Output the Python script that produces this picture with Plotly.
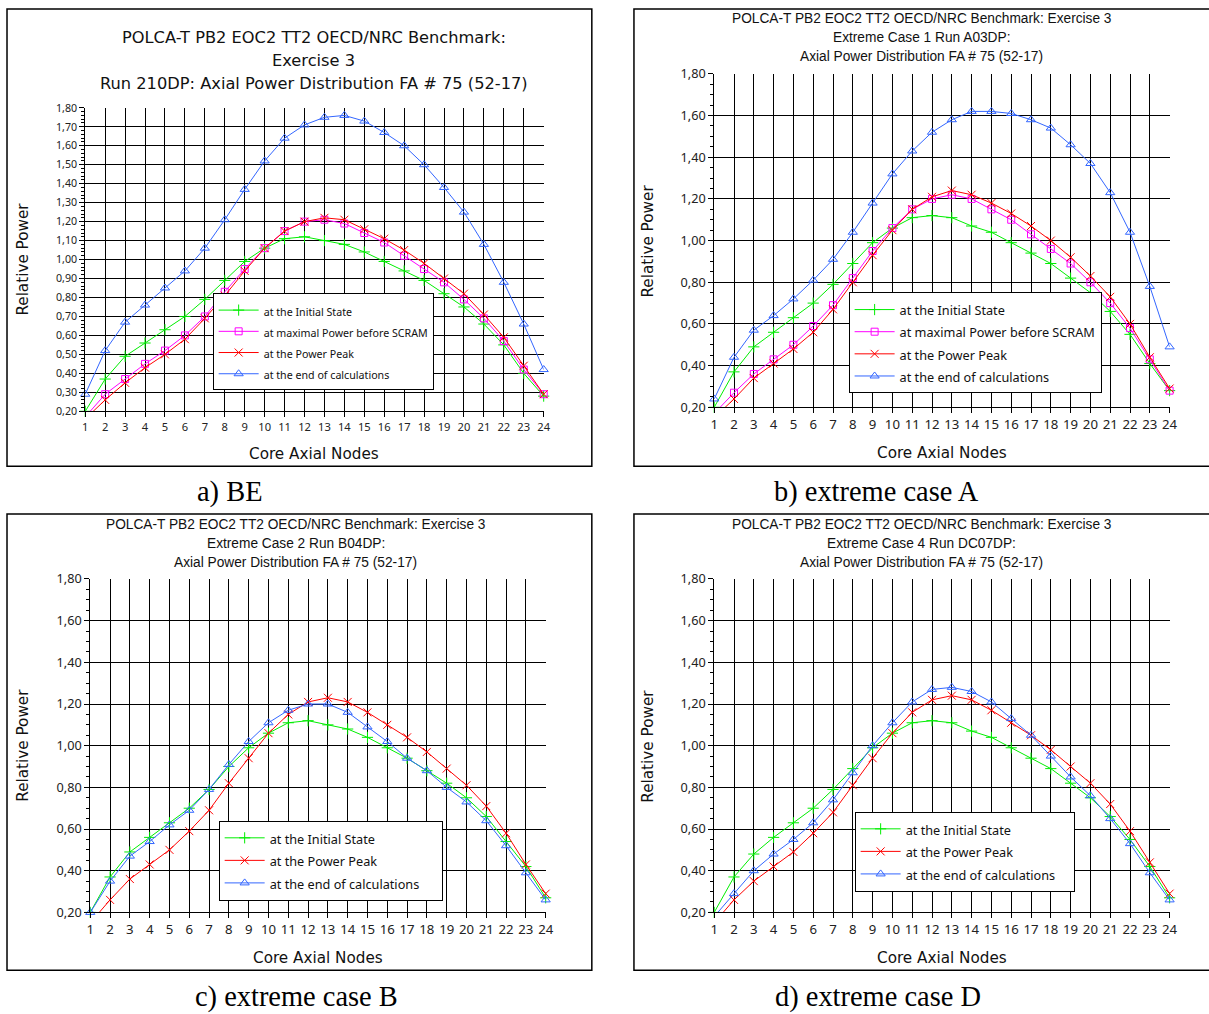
import plotly.graph_objects as go

W, H = 1209, 1014
# Empirical placement correction (page offset and screenshot scaling)
OFFX, OFFY = 5.0, 8.0
SX, SY = 0.987, 0.984
FS = 1 / 0.985  # font size compensation

nodes = list(range(1, 25))

# Panel a) BE - Run 210DP
a_init = [0.20,0.37,0.49,0.56,0.63,0.70,0.79,0.89,0.99,1.06,1.11,1.12,1.10,1.08,1.04,0.99,0.94,0.89,0.82,0.75,0.66,0.55,0.40,0.28]
a_scram = [0.17,0.29,0.37,0.45,0.52,0.60,0.70,0.83,0.95,1.06,1.15,1.20,1.21,1.19,1.14,1.09,1.02,0.95,0.88,0.79,0.69,0.57,0.42,0.29]
a_peak = [0.16,0.26,0.35,0.43,0.50,0.58,0.69,0.81,0.94,1.06,1.15,1.20,1.22,1.21,1.16,1.11,1.05,0.98,0.90,0.82,0.71,0.59,0.44,0.29]
a_end = [0.29,0.52,0.67,0.76,0.85,0.94,1.06,1.21,1.37,1.52,1.64,1.71,1.75,1.76,1.73,1.67,1.60,1.50,1.38,1.25,1.08,0.88,0.66,0.42]

# Panel b) extreme case A - Run A03DP
b_init = [0.20,0.37,0.49,0.56,0.63,0.70,0.79,0.89,0.99,1.06,1.11,1.12,1.11,1.07,1.04,0.99,0.94,0.89,0.82,0.75,0.66,0.55,0.41,0.28]
b_scram = [0.17,0.27,0.36,0.43,0.50,0.59,0.69,0.82,0.95,1.06,1.15,1.20,1.22,1.20,1.15,1.10,1.03,0.96,0.89,0.80,0.70,0.58,0.43,0.28]
b_peak = [0.15,0.24,0.34,0.41,0.48,0.56,0.67,0.80,0.93,1.05,1.15,1.21,1.24,1.22,1.18,1.13,1.07,1.00,0.92,0.83,0.73,0.60,0.44,0.29]
b_end = [0.24,0.44,0.57,0.64,0.72,0.81,0.91,1.04,1.18,1.32,1.43,1.52,1.58,1.62,1.62,1.61,1.58,1.54,1.46,1.37,1.23,1.04,0.78,0.49]

# Panel c) extreme case B - Run B04DP
c_init = [0.20,0.37,0.49,0.56,0.63,0.70,0.79,0.90,0.99,1.06,1.11,1.12,1.10,1.08,1.04,0.99,0.94,0.88,0.82,0.75,0.66,0.54,0.42,0.27]
c_peak = [0.15,0.26,0.36,0.43,0.50,0.59,0.69,0.82,0.94,1.06,1.15,1.21,1.23,1.21,1.16,1.10,1.04,0.97,0.89,0.81,0.71,0.58,0.43,0.29]
c_end = [0.20,0.35,0.47,0.54,0.62,0.69,0.79,0.91,1.02,1.11,1.17,1.20,1.20,1.16,1.09,1.02,0.94,0.88,0.80,0.73,0.64,0.52,0.39,0.26]

# Panel d) extreme case D - Run DC07DP
d_init = [0.20,0.37,0.48,0.56,0.63,0.70,0.79,0.89,0.99,1.06,1.11,1.12,1.11,1.07,1.04,0.99,0.94,0.89,0.82,0.75,0.66,0.55,0.42,0.27]
d_peak = [0.15,0.26,0.35,0.42,0.49,0.58,0.68,0.81,0.94,1.06,1.16,1.22,1.24,1.22,1.17,1.11,1.05,0.98,0.90,0.82,0.72,0.59,0.44,0.29]
d_end = [0.18,0.29,0.40,0.48,0.55,0.63,0.74,0.87,1.00,1.11,1.21,1.27,1.28,1.26,1.21,1.13,1.05,0.95,0.85,0.76,0.65,0.53,0.39,0.26]

series_names = {
    "init": "at the Initial State",
    "scram": "at maximal Power before SCRAM",
    "peak": "at the Power Peak",
    "end": "at the end of calculations",
}
styles = {
    "init": dict(color="#00EE00", symbol="cross-thin-open", size=8),
    "scram": dict(color="#FF00FF", symbol="square-open", size=7),
    "peak": dict(color="#FF0000", symbol="x-thin-open", size=8),
    "end": dict(color="#3366FF", symbol="triangle-up-open", size=8),
}

titles = {
    "a": ["POLCA-T PB2 EOC2 TT2 OECD/NRC Benchmark:", "Exercise 3",
          "Run 210DP: Axial Power Distribution FA # 75 (52-17)"],
    "b": ["POLCA-T PB2 EOC2 TT2 OECD/NRC Benchmark: Exercise 3",
          "Extreme Case 1 Run A03DP:", "Axial Power Distribution FA # 75 (52-17)"],
    "c": ["POLCA-T PB2 EOC2 TT2 OECD/NRC Benchmark: Exercise 3",
          "Extreme Case 2 Run B04DP:", "Axial Power Distribution FA # 75 (52-17)"],
    "d": ["POLCA-T PB2 EOC2 TT2 OECD/NRC Benchmark: Exercise 3",
          "Extreme Case 4 Run DC07DP:", "Axial Power Distribution FA # 75 (52-17)"],
}
captions = {"a": "a) BE", "b": "b) extreme case A", "c": "c) extreme case B", "d": "d) extreme case D"}

panels = {
    "a": dict(data=[("init", a_init), ("scram", a_scram), ("peak", a_peak), ("end", a_end)],
              plot=(86, 543, 106, 410), box=(8, 591, 7, 465), title_x=314, title_y=[36, 59, 82],
              title_font=("DejaVu Sans", 16), ydt=0.1, yminor=0.02, pad=0,
              legend=(213, 292), legend_size=10.5, legend_box=13.8, tickfont=11, xlab_y=453, ylab_x=23,
              cap=(230, 491)),
    "b": dict(data=[("init", b_init), ("scram", b_scram), ("peak", b_peak), ("end", b_end)],
              plot=(713, 1167, 72, 406), box=(633, 1230, 7, 465), title_x=920, title_y=[17, 36, 55],
              title_font=("Liberation Sans", 13.5), ydt=0.2, yminor=0.05, pad=0,
              legend=(847, 291), legend_size=12.5, legend_box=14.5, tickfont=13, xlab_y=452, ylab_x=647,
              cap=(875, 491)),
    "c": dict(data=[("init", c_init), ("peak", c_peak), ("end", c_end)],
              plot=(91, 545, 578, 912), box=(8, 591, 513, 970), title_x=296, title_y=[523, 542, 561],
              title_font=("Liberation Sans", 13.5), ydt=0.2, yminor=0.05, pad=5,
              legend=(219, 820), legend_size=12.5, legend_box=14.8, tickfont=13, xlab_y=958, ylab_x=24,
              cap=(297, 997)),
    "d": dict(data=[("init", d_init), ("peak", d_peak), ("end", d_end)],
              plot=(713, 1167, 578, 912), box=(633, 1230, 513, 970), title_x=920, title_y=[523, 542, 561],
              title_font=("Liberation Sans", 13.5), ydt=0.2, yminor=0.05, pad=4,
              legend=(853, 811), legend_size=12.5, legend_box=14.8, tickfont=13, xlab_y=958, ylab_x=647,
              cap=(876, 997)),
}

def px(x):
    return ((x - OFFX) / SX) / W

def py(y):
    return 1 - ((y - OFFY) / SY) / H

def f(s):
    return round(s * FS, 2)

fig = go.Figure()
annotations = []
shapes = []
layout = {}

for i, (key, p) in enumerate(panels.items(), start=1):
    sfx = "" if i == 1 else str(i)
    legname = "legend" + sfx
    x0, x1, y0, y1 = p["plot"]
    for skey, vals in p["data"]:
        st = styles[skey]
        text = series_names[skey]
        if skey == "end" and p["pad"]:
            text = text + "&nbsp;" * p["pad"]
        label = '<span style="font-size:%spx">%s</span>' % (f(p["legend_size"]), text)
        fig.add_trace(go.Scatter(
            x=nodes, y=vals, mode="lines+markers", name=label,
            xaxis="x" + sfx, yaxis="y" + sfx, legend=legname,
            line=dict(color=st["color"], width=1),
            marker=dict(symbol=st["symbol"], size=st["size"], color=st["color"],
                        line=dict(color=st["color"], width=1)),
            cliponaxis=False,
        ))
    layout["xaxis" + sfx] = dict(
        domain=[px(x0), px(x1)], anchor="y" + sfx, range=[1, 24], dtick=1, tick0=1,
        showgrid=True, gridcolor="black", gridwidth=1, showline=True, linecolor="black",
        linewidth=1, ticks="outside", ticklen=5, tickcolor="black", zeroline=False,
        tickfont=dict(family="Noto Sans", size=f(p["tickfont"]), color="#222"),
    )
    layout["yaxis" + sfx] = dict(
        domain=[py(y1), py(y0)], anchor="x" + sfx, range=[0.2, 1.8], dtick=p["ydt"], tick0=0.2,
        tickformat=".2f", showgrid=True, gridcolor="black", gridwidth=1, showline=True,
        linecolor="black", linewidth=1, ticks="outside", ticklen=5, tickcolor="black",
        zeroline=False, tickfont=dict(family="Noto Sans", size=f(p["tickfont"] - 0.5), color="#222"),
        minor=dict(dtick=p["yminor"], tick0=0.2, ticks="outside", ticklen=3, tickcolor="black",
                   showgrid=False),
    )
    layout[legname] = dict(
        x=px(p["legend"][0]), y=py(p["legend"][1]), xanchor="left", yanchor="top",
        bgcolor="white", bordercolor="black", borderwidth=1,
        font=dict(family="Noto Sans", size=f(p["legend_box"]), color="#111"),
        itemwidth=40, tracegroupgap=0,
    )
    fam, size = p["title_font"]
    for t, yy in zip(titles[key], p["title_y"]):
        annotations.append(dict(text=t, x=px(p["title_x"]), y=py(yy), xref="paper", yref="paper",
                                xanchor="center", yanchor="middle", showarrow=False,
                                font=dict(color="#111", family=fam, size=f(size))))
    annotations.append(dict(text="Core Axial Nodes", x=px((x0 + x1) / 2), y=py(p["xlab_y"]),
                            xref="paper", yref="paper", xanchor="center", yanchor="middle",
                            showarrow=False, font=dict(family="DejaVu Sans", size=f(15), color="#111")))
    annotations.append(dict(text="Relative Power", x=px(p["ylab_x"]), y=py((y0 + y1) / 2),
                            xref="paper", yref="paper", xanchor="center", yanchor="middle",
                            textangle=-90, showarrow=False,
                            font=dict(family="DejaVu Sans", size=f(15), color="#111")))
    annotations.append(dict(text=captions[key], x=px(p["cap"][0]), y=py(p["cap"][1]),
                            xref="paper", yref="paper", xanchor="center", yanchor="middle",
                            showarrow=False,
                            font=dict(family="Liberation Serif", size=f(28), color="black")))
    bx0, bx1, by0, by1 = p["box"]
    shapes.append(dict(type="rect", xref="paper", yref="paper", x0=px(bx0), x1=px(bx1),
                       y0=py(by1), y1=py(by0), line=dict(color="black", width=1.5)))

fig.update_layout(
    width=W, height=H, margin=dict(l=0, r=0, t=0, b=0),
    paper_bgcolor="white", plot_bgcolor="white",
    separators=",.", annotations=annotations, shapes=shapes,
    **layout,
)

fig.write_html("out.html")
